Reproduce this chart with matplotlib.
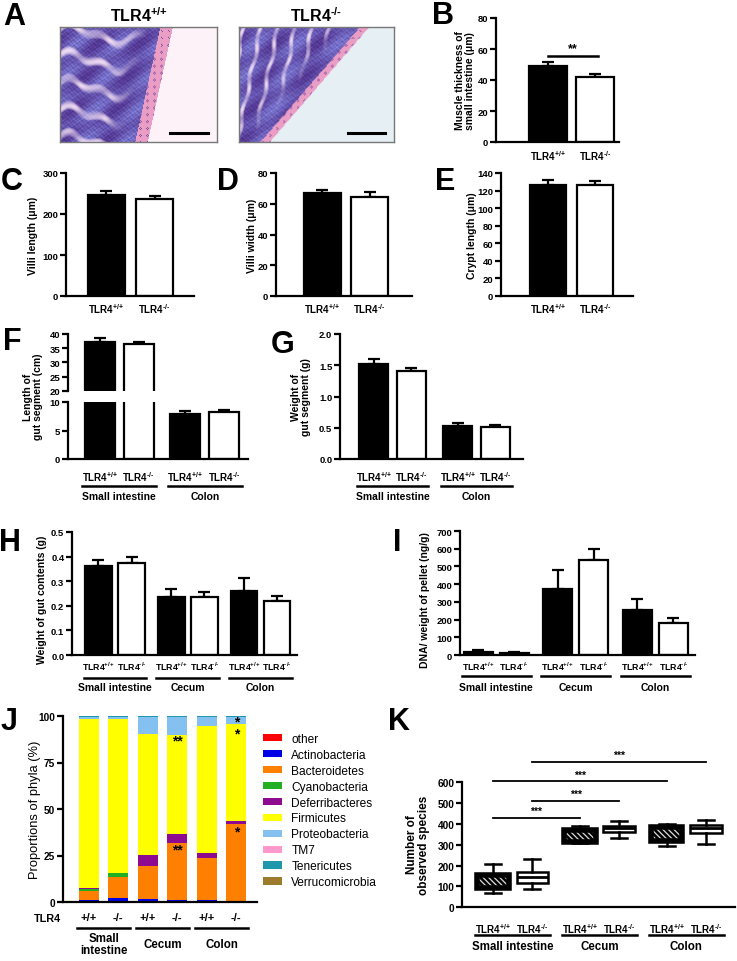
import numpy as np
import matplotlib
matplotlib.use('Agg')
import matplotlib.pyplot as plt
from matplotlib.patches import PathPatch
from matplotlib.transforms import blended_transform_factory as blend

NARROW = ['Liberation Sans Narrow', 'Liberation Sans', 'DejaVu Sans']
WIDE = ['Liberation Sans', 'DejaVu Sans']
plt.rcParams['font.family'] = NARROW
plt.rcParams['font.weight'] = 'bold'
plt.rcParams['mathtext.fontset'] = 'custom'
plt.rcParams['mathtext.rm'] = 'Liberation Sans:bold'
plt.rcParams['mathtext.default'] = 'rm'
plt.rcParams['axes.linewidth'] = 1.6
plt.rcParams['hatch.linewidth'] = 0.9

# ---- data ----
genotype = [r'TLR4$^{\text{+/+}}$', r'TLR4$^{\text{-/-}}$']
muscle = [49.0, 42.1]
muscle_err = [2.4, 1.8]
villi_length = [247, 237]
villi_length_err = [8, 7]
villi_width = [67.0, 64.5]
villi_width_err = [2.0, 3.0]
crypt_length = [126, 126]
crypt_length_err = [5.5, 5.0]
seg_length = [37.3, 36.3, 7.95, 8.2]
seg_length_err = [1.2, 0.8, 0.45, 0.45]
seg_weight = [1.52, 1.41, 0.53, 0.51]
seg_weight_err = [0.08, 0.04, 0.05, 0.04]
contents_weight = [0.363, 0.374, 0.234, 0.237, 0.261, 0.218]
contents_weight_err = [0.024, 0.023, 0.034, 0.018, 0.053, 0.021]
dna_pellet = [18, 13, 373, 539, 253, 180]
dna_pellet_err = [8, 4, 107, 57, 63, 30]

phyla = ['other', 'Actinobacteria', 'Bacteroidetes', 'Cyanobacteria', 'Deferribacteres',
         'Firmicutes', 'Proteobacteria', 'TM7', 'Tenericutes', 'Verrucomicrobia']
phyla_colors = ['#ff0000', '#0000e6', '#ff8000', '#22b022', '#8e0a8e',
                '#ffff00', '#84c1f0', '#ff99cc', '#1f97ad', '#9c7c2c']
tlr4_status = ['+/+', '-/-', '+/+', '-/-', '+/+', '-/-']
other_pct = [0.0, 0.0, 0.4, 0.0, 0.3, 0.0]
actino_pct = [1.3, 2.2, 1.0, 0.9, 0.8, 0.5]
bactero_pct = [4.5, 11.5, 18.0, 30.8, 22.8, 41.4]
cyano_pct = [1.4, 1.8, 0.1, 0.0, 0.0, 0.0]
deferri_pct = [0.1, 0.1, 6.0, 4.8, 2.4, 1.4]
firmi_pct = [91.3, 83.0, 65.0, 53.4, 68.1, 52.6]
proteo_pct = [0.8, 1.1, 9.0, 9.7, 5.0, 3.5]
tm7_pct = [0.1, 0.0, 0.1, 0.0, 0.0, 0.0]
teneri_pct = [0.5, 0.3, 0.4, 0.4, 0.6, 0.6]
verruco_pct = [0.0, 0.0, 0.0, 0.0, 0.0, 0.0]

species_min = [67, 86, 307, 331, 294, 306]
species_q1 = [93, 117, 312, 363, 320, 358]
species_med = [125, 144, 345, 379, 355, 380]
species_q3 = [157, 171, 373, 389, 387, 397]
species_max = [206, 232, 389, 414, 400, 421]

W, H = 737, 962
fig = plt.figure(figsize=(W / 100, H / 100), dpi=100)


def fy(y):
    return 1 - y / H


def add_ax(x0, y0, x1, y1):
    return fig.add_axes([x0 / W, 1 - y1 / H, (x1 - x0) / W, (y1 - y0) / H])


def style(ax, xlim, ylim, yticks, pad=3.5, fmt=None):
    ax.set_xlim(xlim)
    ax.set_ylim(ylim)
    ax.spines[['top', 'right']].set_visible(False)
    ax.set_yticks(yticks)
    if fmt:
        ax.set_yticklabels([fmt % t for t in yticks])
    ax.tick_params(axis='y', direction='out', length=4, width=1.6, labelsize=6.8, pad=1.5)
    ax.tick_params(axis='x', length=0, labelsize=7, pad=pad)


def bars(ax, pos, vals, errs, width):
    colors = ['black', 'white'] * (len(vals) // 2)
    ax.bar(pos, vals, width, color=colors, edgecolor='black', linewidth=1.6, zorder=2)
    ax.errorbar(pos, vals, yerr=[np.zeros(len(errs)), errs], fmt='none', ecolor='black',
                elinewidth=1.6, capsize=4, capthick=1.6, zorder=1)
    ax.set_xticks(pos, genotype * (len(vals) // 2))


def groups(ax, spans, names, yline, ytext, fs=7.5):
    tr = blend(ax.transData, fig.transFigure)
    for (a, b), name in zip(spans, names):
        ax.plot([a, b], [fy(yline)] * 2, transform=tr, color='black', lw=1.8, clip_on=False)
        ax.text((a + b) / 2, fy(ytext), name, transform=tr, ha='center', va='center',
                fontsize=fs, linespacing=1.1, family=WIDE)


def ylab(x, y, s, fs=7.5, weight='bold'):
    fig.text(x / W, fy(y), s, rotation=90, ha='center', va='center', fontsize=fs,
             weight=weight, multialignment='center', linespacing=1.05, family=WIDE)


def letter(x, y, s):
    fig.text(x / W, fy(y), s, ha='center', va='center', fontsize=22, weight='bold',
             family=WIDE)


# ---- A: histology ----
def histology(edge_top, edge_bot, band, lumen, across):
    v, u = np.mgrid[0:1:116j, 0:1:157j]
    edge = edge_top + (edge_bot - edge_top) * v
    if across:
        phase = u * 9 + v * 1.4 + 0.08 * np.sin(2 * np.pi * v * 3.1)
        thr = 0.62
    else:
        phase = v * 4.2 + 0.28 * np.sin(2 * np.pi * u * 1.6 + 1) + 0.12 * np.sin(2 * np.pi * u * 4.7)
        thr = 0.45
    reach = np.clip((edge - 0.08 - u) / 0.15, 0, 1)
    gap = np.clip((np.sin(2 * np.pi * phase) - thr) / (1 - thr), 0, 1) ** 0.7 * reach
    gap *= 0.75 + 0.25 * np.sin(v * 37 + u * 11)
    tex = (1 + 0.16 * np.sin(u * 230 + v * 40) * np.sin(v * 190)
           + 0.1 * np.sin(u * 97) * np.sin(v * 133 + u * 20))
    mix = 0.5 + 0.5 * np.sin(u * 23 + v * 17) * np.sin(v * 11)
    dark = np.array([0.33, 0.22, 0.58])
    blue = np.array([0.47, 0.45, 0.8])
    base = dark * mix[..., None] + blue * (1 - mix[..., None])
    light = np.array([0.94, 0.86, 0.95])
    img = base * tex[..., None] * (1 - gap[..., None]) + light * gap[..., None]
    pink = np.array([0.92, 0.62, 0.78])
    dots = (np.sin(u * 420) * np.sin(v * 310)) > 0.8
    in_band = (u >= edge) & (u < edge + band)
    img[in_band] = pink
    img[in_band & dots] = [0.5, 0.3, 0.6]
    img[u >= edge + band] = lumen
    return np.clip(img, 0, 1)


for (x0, x1), title, args in [((60, 217), genotype[0], (0.64, 0.48, 0.08, [0.99, 0.95, 0.97], False)),
                              ((239, 394), genotype[1], (0.78, 0.14, 0.06, [0.9, 0.94, 0.96], True))]:
    ax = add_ax(x0, 28, x1, 143)
    ax.imshow(histology(*args), aspect='auto', interpolation='bilinear')
    ax.set_xticks([])
    ax.set_yticks([])
    for s in ax.spines.values():
        s.set_color('#777777')
        s.set_linewidth(1.0)
    ax.plot([0.7, 0.94], [0.08, 0.08], transform=ax.transAxes, color='black', lw=2.2)
    fig.text((x0 + x1) / 2 / W, fy(16), title, ha='center', va='center', fontsize=11.5)
letter(14, 17, 'A')

# ---- B ----
ax = add_ax(496, 19, 619, 143)
bars(ax, [0, 1], muscle, muscle_err, 0.8)
style(ax, (-1.1, 1.5), (0, 80), [0, 20, 40, 60, 80], pad=4.5)
ax.plot([0, 1.05], [55.5, 55.5], color='black', lw=1.8, clip_on=False)
ax.text(0.52, 56.5, '**', ha='center', va='bottom', fontsize=9)
ylab(465, 81, 'Muscle thickness of\nsmall intestine (μm)')
letter(443, 16, 'B')

# ---- C, D, E ----
for (x0, x1), vals, errs, xlim, ymax, yt, lab, lx, L, Lx in [
        ((66, 194), villi_length, villi_length_err, (-0.84, 1.82), 300, [0, 100, 200, 300],
         'Villi length (μm)', 33, 'C', 12),
        ((276, 412), villi_width, villi_width_err, (-0.97, 1.89), 80, [0, 20, 40, 60, 80],
         'Villi width (μm)', 252, 'D', 228),
        ((501, 633), crypt_length, crypt_length_err, (-1.0, 1.81), 140, list(range(0, 141, 20)),
         'Crypt length (μm)', 472, 'E', 445)]:
    ax = add_ax(x0, 174, x1, 297)
    bars(ax, [0, 1], vals, errs, 0.78)
    style(ax, xlim, (0, ymax), yt, pad=3.5)
    ylab(lx, 236, lab)
    letter(Lx, 182, L)

# ---- F (broken axis) ----
fpos = [0, 1, 2.2, 3.2]
ax_top = add_ax(68, 335, 248, 391.7)
ax_bot = add_ax(68, 403, 248, 460)
for a in (ax_top, ax_bot):
    a.bar(fpos, seg_length, 0.77, color=['black', 'white'] * 2, edgecolor='black',
          linewidth=1.6, zorder=2)
    a.errorbar(fpos, seg_length, yerr=[np.zeros(4), seg_length_err], fmt='none', ecolor='black',
               elinewidth=1.6, capsize=4, capthick=1.6, zorder=1)
style(ax_top, (-0.81, 3.81), (20, 40), [20, 25, 30, 35, 40])
ax_top.spines['bottom'].set_visible(False)
ax_top.set_xticks([])
style(ax_bot, (-0.81, 3.81), (0, 10), [0, 5, 10], pad=7.5)
ax_bot.set_xticks(fpos, genotype * 2)
groups(ax_bot, [(-0.45, 1.45), (1.75, 3.65)], ['Small intestine', 'Colon'], 487, 497)
ylab(33, 397, 'Length of\ngut segment (cm)')
letter(12, 342, 'F')

# ---- G ----
gpos = [0, 1, 2.25, 3.25]
ax = add_ax(340, 335, 523, 460)
bars(ax, gpos, seg_weight, seg_weight_err, 0.78)
style(ax, (-0.9, 3.99), (0, 2.0), [0, 0.5, 1.0, 1.5, 2.0], pad=7.5, fmt='%.1f')
groups(ax, [(-0.45, 1.45), (1.8, 3.7)], ['Small intestine', 'Colon'], 487, 497)
ylab(301, 397, 'Weight of\ngut segment (g)')
letter(283, 345, 'G')

# ---- H ----
hpos = [0, 1, 2.2, 3.2, 4.4, 5.4]
ax = add_ax(72, 533, 297, 656)
bars(ax, hpos, contents_weight, contents_weight_err, 0.8)
style(ax, (-0.8, 6.0), (0, 0.5), [0, 0.1, 0.2, 0.3, 0.4, 0.5], pad=3, fmt='%.1f')
ax.tick_params(axis='x', labelsize=6.3)
groups(ax, [(-0.45, 1.45), (1.75, 3.65), (3.95, 5.85)], ['Small intestine', 'Cecum', 'Colon'],
       679, 688)
ylab(42, 600, 'Weight of gut contents (g)')
letter(10, 543, 'H')

# ---- I ----
ax = add_ax(460, 532, 695, 656)
bars(ax, hpos, dna_pellet, dna_pellet_err, 0.8)
style(ax, (-0.5, 6.0), (0, 700), list(range(0, 701, 100)), pad=3)
ax.tick_params(axis='x', labelsize=6.3)
groups(ax, [(-0.45, 1.45), (1.75, 3.65), (3.95, 5.85)], ['Small intestine', 'Cecum', 'Colon'],
       677, 688)
ylab(425, 600, 'DNA/ weight of pellet (ng/g)')
letter(397, 543, 'I')

# ---- J ----
jpos = np.arange(6)
ax = add_ax(63, 717, 257, 903)
phyla_pct = [other_pct, actino_pct, bactero_pct, cyano_pct, deferri_pct,
             firmi_pct, proteo_pct, tm7_pct, teneri_pct, verruco_pct]
bottom = np.zeros(6)
for name, col, pct in zip(phyla, phyla_colors, phyla_pct):
    ax.bar(jpos, pct, 0.68, bottom=bottom, color=col, label=name, linewidth=0)
    bottom += np.array(pct)
style(ax, (-0.88, 5.7), (0, 100), [0, 25, 50, 75, 100], pad=7)
ax.set_xticks(jpos, tlr4_status)
ax.tick_params(axis='x', labelsize=8)
ax.tick_params(axis='y', labelsize=7.3)
for x, y, s in [(3, 87, '**'), (3, 28, '**'), (5, 97, '*'), (5, 90.5, '*'), (5, 38, '*')]:
    ax.text(x, y, s, ha='center', va='center', fontsize=10, family=WIDE)
ax.legend(loc='upper left', bbox_to_anchor=(252 / W, fy(723)), bbox_transform=fig.transFigure,
          frameon=False, handlelength=1.6, handleheight=0.55, handletextpad=0.8,
          labelspacing=0.33, prop={'size': 8.6, 'weight': 'normal', 'family': WIDE})
groups(ax, [(-0.4, 1.4), (1.6, 3.4), (3.6, 5.4)], ['Small\nintestine', 'Cecum', 'Colon'],
       929, 945, fs=8.3)
fig.text(47 / W, fy(919), 'TLR4', ha='center', va='center', fontsize=7.8, family=WIDE)
ylab(35, 810, 'Proportions of phyla (%)', fs=9.3, weight='normal')
letter(9, 722, 'J')

# ---- K ----
ax = add_ax(462, 783.3, 735, 908.3)
stats = [dict(whislo=a, q1=b, med=c, q3=d, whishi=e)
         for a, b, c, d, e in zip(species_min, species_q1, species_med, species_q3, species_max)]
bp = ax.bxp(stats, positions=hpos, widths=0.8, patch_artist=True, showfliers=False,
            capwidths=0.4,
            boxprops=dict(facecolor='white', edgecolor='black', linewidth=1.8),
            medianprops=dict(color='black', linewidth=2),
            whiskerprops=dict(color='black', linewidth=1.8),
            capprops=dict(color='black', linewidth=1.8))
for i in (0, 2, 4):
    box = bp['boxes'][i]
    box.set_facecolor('black')
    ax.add_patch(PathPatch(box.get_path(), facecolor='none', edgecolor='#dddddd',
                           hatch='\\\\\\\\\\\\', linewidth=0, zorder=3))
    ax.add_patch(PathPatch(box.get_path(), facecolor='none', edgecolor='black',
                           linewidth=4, zorder=4))
style(ax, (-0.78, 6.13), (0, 600), list(range(0, 601, 100)), pad=10)
ax.set_xticks(hpos, genotype * 3)
ax.tick_params(axis='x', labelsize=7)
ax.tick_params(axis='y', labelsize=7.3)
for a, b, y in [(1, 5.4, 699), (0, 4.4, 606), (1, 3.2, 512), (0, 2.2, 429)]:
    ax.plot([a, b], [y, y], color='black', lw=1.3, clip_on=False)
    ax.text((a + b) / 2, y + 8, '***', ha='center', va='bottom', fontsize=7.5)
groups(ax, [(-0.45, 1.45), (1.75, 3.65), (3.95, 5.85)], ['Small intestine', 'Cecum', 'Colon'],
       936, 947, fs=8.3)
ylab(418, 845, 'Number of\nobserved species', fs=8.5)
letter(399, 722, 'K')

fig.savefig('out.png', dpi=100)
